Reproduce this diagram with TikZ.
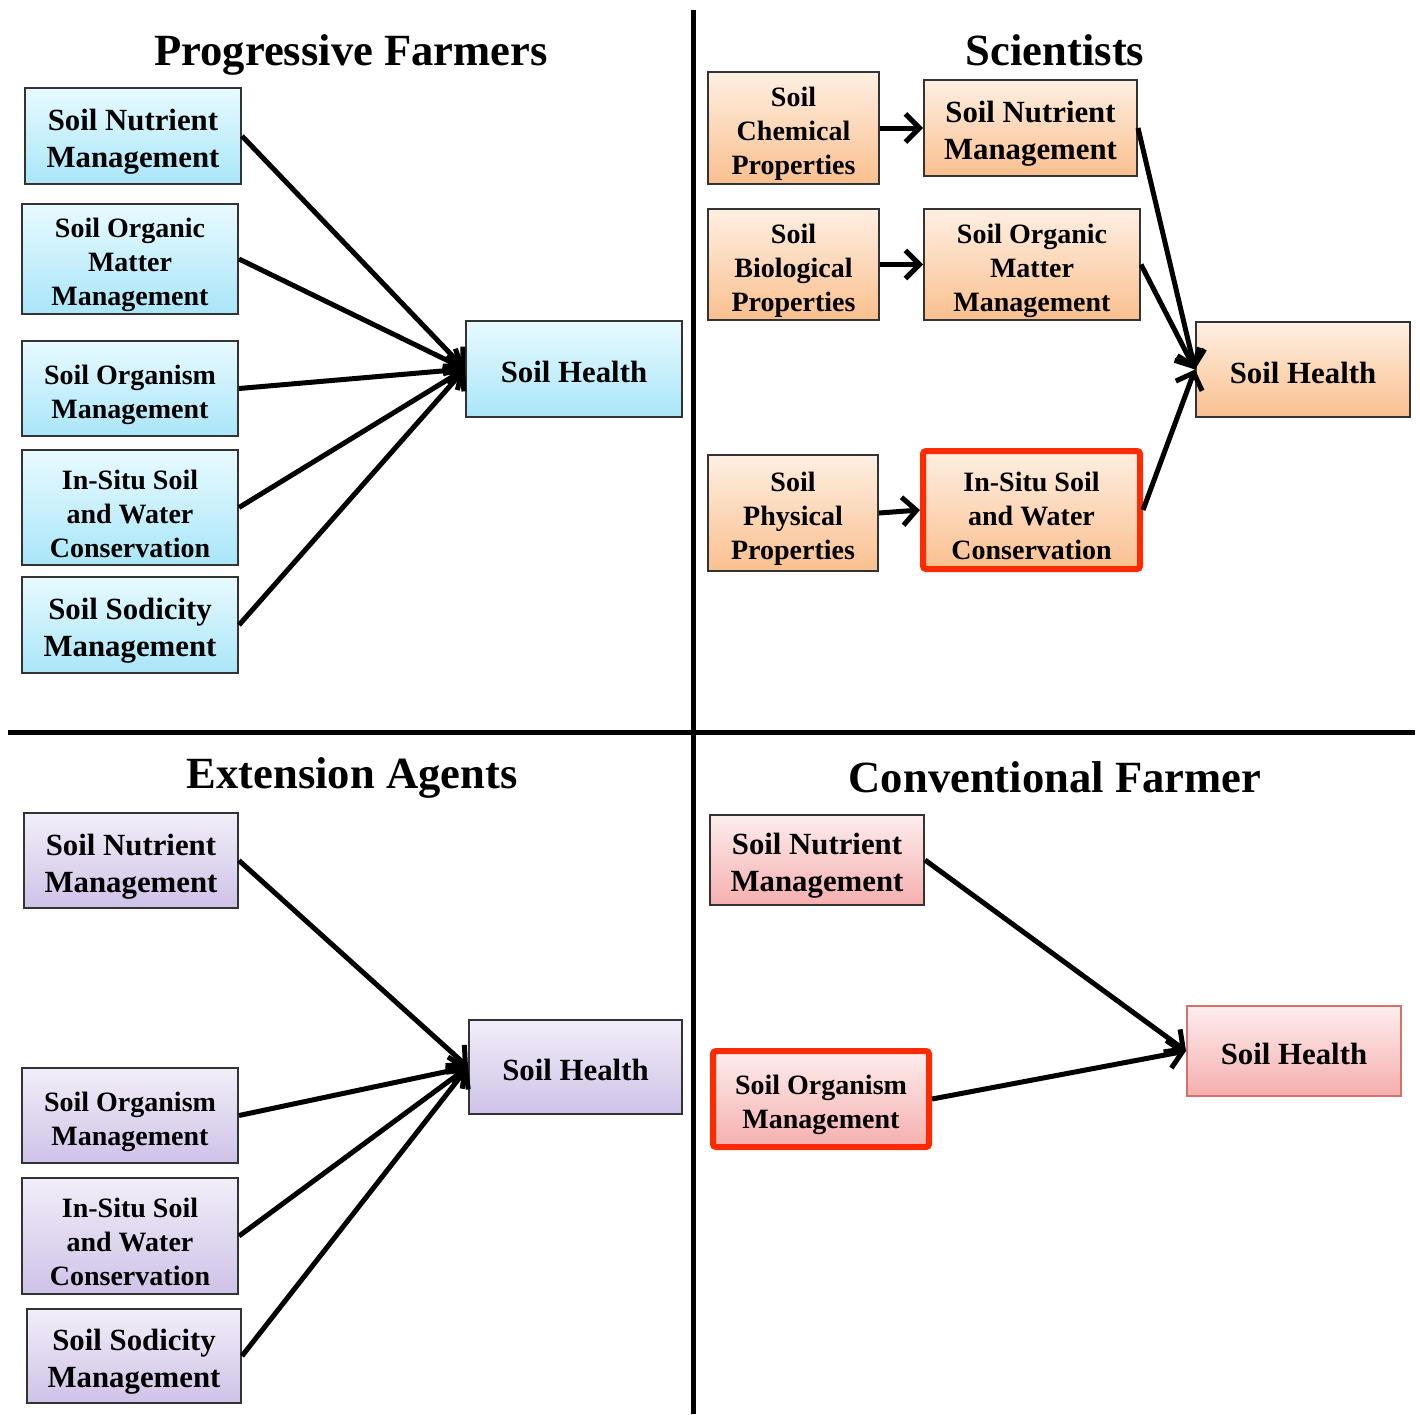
\documentclass[tikz,border=0pt]{standalone}
\usepackage{fontspec}
\setmainfont{Liberation Serif}
\usetikzlibrary{arrows.meta}

\definecolor{bluetop}{HTML}{E8FAFF}
\definecolor{bluebot}{HTML}{A9E6F8}
\definecolor{orgtop}{HTML}{FEEFE2}
\definecolor{orgbot}{HTML}{FAC08F}
\definecolor{purtop}{HTML}{F2EEF9}
\definecolor{purbot}{HTML}{CEC2E7}
\definecolor{pinktop}{HTML}{FDEDED}
\definecolor{pinkbot}{HTML}{F5AFAE}
\definecolor{edgegray}{HTML}{333333}
\definecolor{edgepink}{HTML}{D4716D}
\definecolor{highlight}{HTML}{FF2A00}

\tikzset{
  x=1pt, y=-1pt,
  box/.style={draw=edgegray, line width=2pt, inner sep=0pt},
  big/.style={align=center, inner sep=0pt, yshift=-6pt,
    font=\bfseries\fontsize{30.8}{37}\selectfont},
  small/.style={align=center, inner sep=0pt, yshift=-6pt,
    font=\bfseries\fontsize{28}{34}\selectfont},
  single/.style={inner sep=0pt, yshift=-3pt,
    font=\bfseries\fontsize{30.8}{37}\selectfont},
  blueshade/.style={top color=bluetop, bottom color=bluebot},
  orgshade/.style={top color=orgtop, bottom color=orgbot},
  purshade/.style={top color=purtop, bottom color=purbot},
  pinkshade/.style={top color=pinktop, bottom color=pinkbot},
  marked/.style={draw=highlight, line width=6pt, rounded corners=3pt},
  title/.style={font=\bfseries\fontsize{44.6}{52}\selectfont, text depth=0pt},
  link/.style={line width=5pt, -{Straight Barb[length=14pt,width=28pt]}},
  divider/.style={line width=5pt},
  sz/.style 2 args={minimum width=#1, minimum height=#2},
  % box text as a centred label
  lb/.style={label={[big]center:{#1}}},
  ls/.style={label={[small]center:{#1}}},
  lh/.style={label={[single]center:{#1}}}
}

\begin{document}
\begin{tikzpicture}
\useasboundingbox (0,0) rectangle (1420,1414);

% quadrant dividers
\coordinate (vtop) at (693,10);
\coordinate (vbot) at (693,1414);
\coordinate (hl) at (8,732);
\coordinate (hr) at (1415,732);
\draw[divider] (vtop) -- (vbot);
\draw[divider] (hl) -- (hr);

% ---------- Progressive Farmers ----------
\node[title] (tpf) at (351,50) {Progressive Farmers};
\node[box, blueshade, sz={216pt}{96pt}, lb={Soil Nutrient\\Management}] (pf1) at (133,136) {};
\node[box, blueshade, sz={216pt}{110pt}, ls={Soil Organic\\Matter\\Management}] (pf2) at (130,259) {};
\node[box, blueshade, sz={216pt}{95pt}, ls={Soil Organism\\Management}] (pf3) at (130,388.5) {};
\node[box, blueshade, sz={216pt}{115pt}, ls={In-Situ Soil\\and Water\\Conservation}] (pf4) at (130,507.5) {};
\node[box, blueshade, sz={216pt}{96pt}, lb={Soil Sodicity\\Management}] (pf5) at (130,625) {};
\node[box, blueshade, sz={216pt}{96pt}, lh={Soil Health}] (pfh) at (574,369) {};
\foreach \n in {pf1,pf2,pf3,pf4,pf5}
  \draw[link] (\n.east) -- (pfh.west);

% ---------- Scientists ----------
\node[title] (tsc) at (1055,50) {Scientists};
\node[box, orgshade, sz={171pt}{112pt}, ls={Soil\\Chemical\\Properties}] (sc1) at (793.5,128) {};
\node[box, orgshade, sz={213pt}{96pt}, lb={Soil Nutrient\\Management}] (sc2) at (1030.5,128) {};
\node[box, orgshade, sz={171pt}{111pt}, ls={Soil\\Biological\\Properties}] (sc3) at (793.5,264.5) {};
\node[box, orgshade, sz={216pt}{111pt}, ls={Soil Organic\\Matter\\Management}] (sc4) at (1032,264.5) {};
\node[box, orgshade, sz={170pt}{116pt}, ls={Soil\\Physical\\Properties}] (sc5) at (793,513) {};
\node[box, orgshade, marked, sz={217pt}{118pt}, ls={In-Situ Soil\\and Water\\Conservation}] (sc6) at (1031.5,510) {};
\node[box, orgshade, sz={214pt}{95pt}, lh={Soil Health}] (sch) at (1303,369.5) {};
\draw[link] (sc1.east) -- (sc2.west);
\draw[link] (sc3.east) -- (sc4.west);
\draw[link] (sc5.east) -- (sc6.west);
\foreach \n in {sc2,sc4,sc6}
  \draw[link] (\n.east) -- (sch.west);

% ---------- Extension Agents ----------
\node[title] (tea) at (352,773) {Extension Agents};
\node[box, purshade, sz={214pt}{95pt}, lb={Soil Nutrient\\Management}] (ea1) at (131,860.5) {};
\node[box, purshade, sz={216pt}{95pt}, ls={Soil Organism\\Management}] (ea2) at (130,1115.5) {};
\node[box, purshade, sz={216pt}{116pt}, ls={In-Situ Soil\\and Water\\Conservation}] (ea3) at (130,1236) {};
\node[box, purshade, sz={214pt}{94pt}, lb={Soil Sodicity\\Management}] (ea4) at (134,1356) {};
\node[box, purshade, sz={213pt}{94pt}, lh={Soil Health}] (eah) at (575.5,1067) {};
\foreach \n in {ea1,ea2,ea3,ea4}
  \draw[link] (\n.east) -- (eah.west);

% ---------- Conventional Farmer ----------
\node[title] (tcf) at (1055,777) {Conventional Farmer};
\node[box, pinkshade, sz={214pt}{90pt}, lb={Soil Nutrient\\Management}] (cf1) at (817,860) {};
\node[box, pinkshade, marked, sz={216pt}{96pt}, ls={Soil Organism\\Management}] (cf2) at (821,1099) {};
\node[box, pinkshade, draw=edgepink, sz={214pt}{90pt}, lh={Soil Health}] (cfh) at (1294,1051) {};
\draw[link] (cf1.east) -- (cfh.west);
\draw[link] (cf2.east) -- (cfh.west);
\end{tikzpicture}
\end{document}
